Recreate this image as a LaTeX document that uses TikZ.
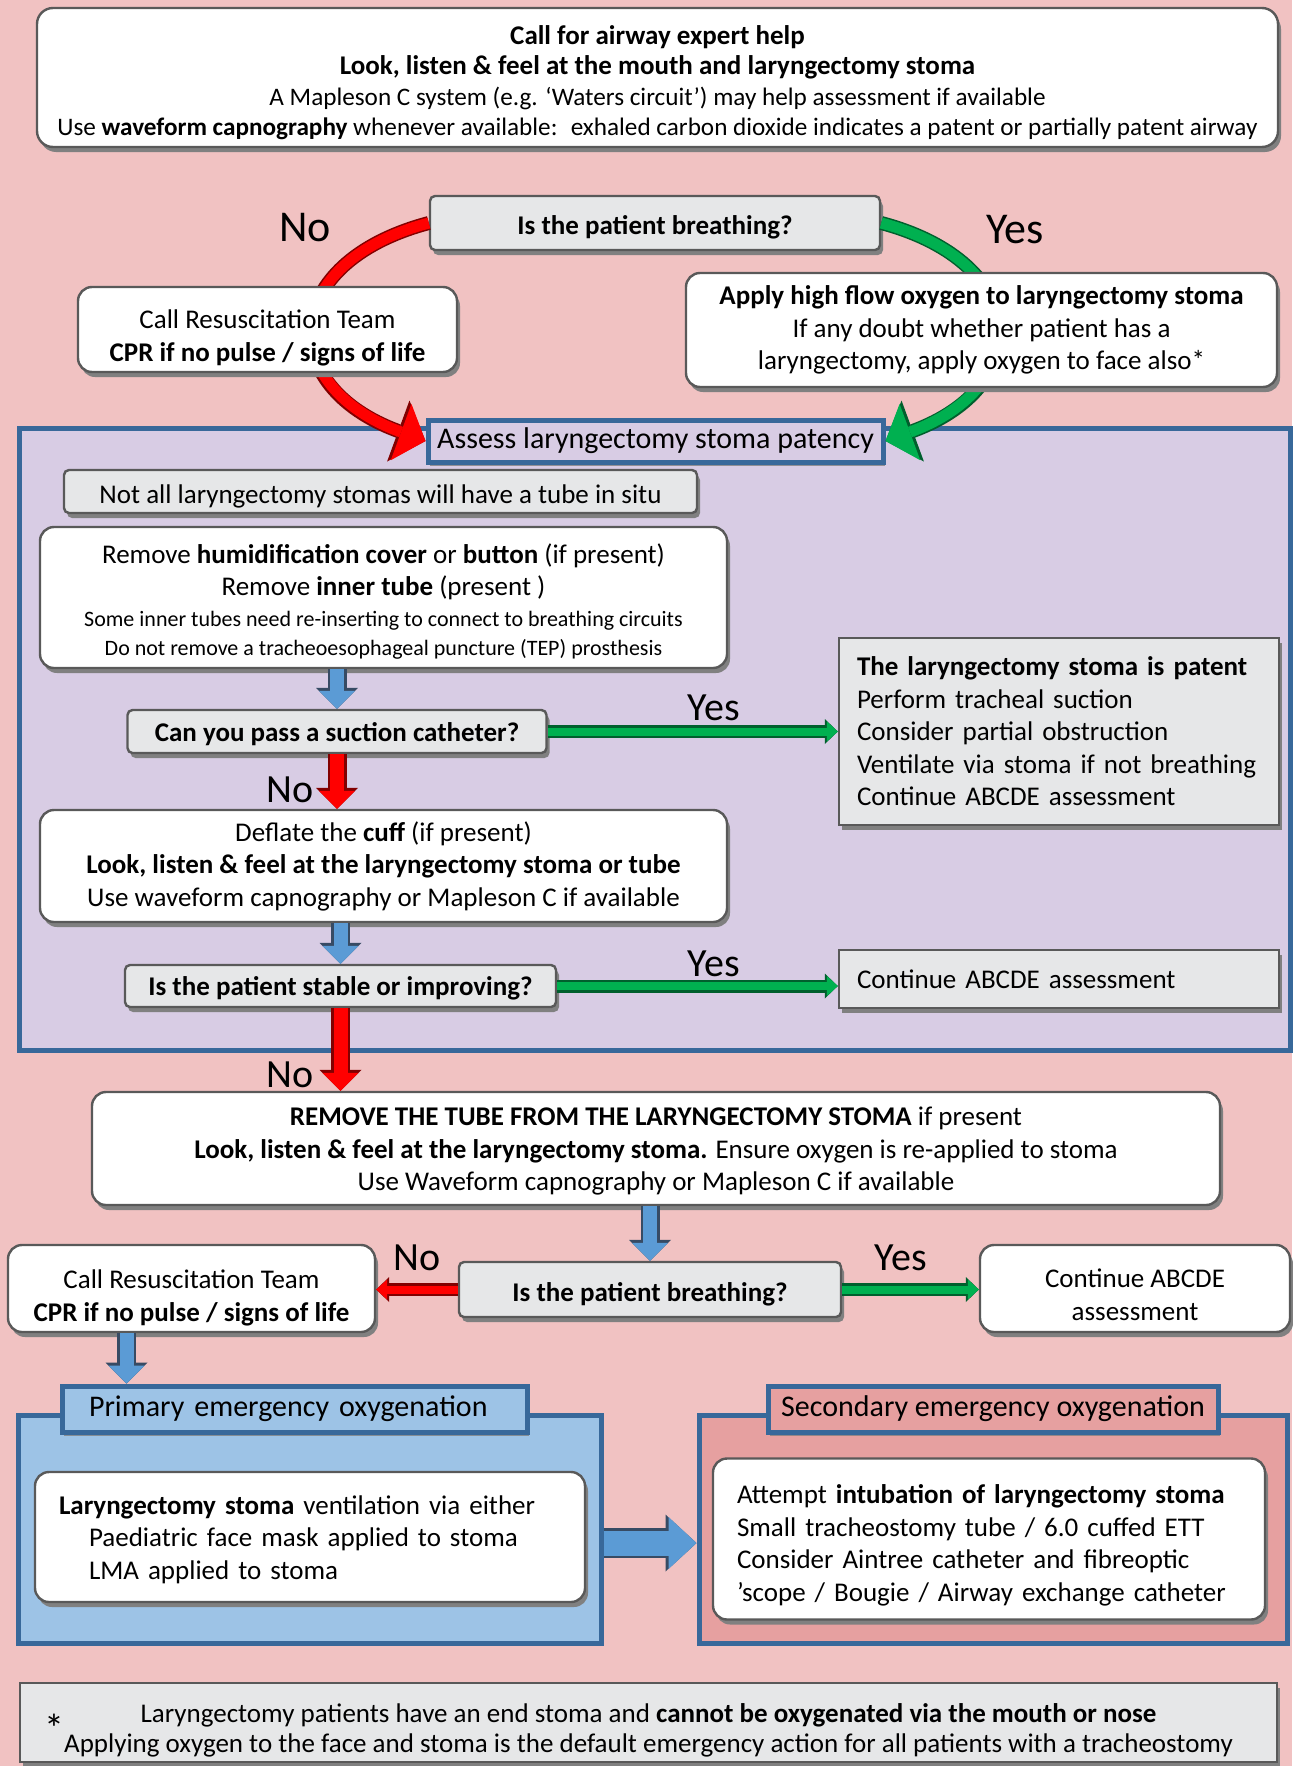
\documentclass[tikz,border=0pt]{standalone}
\usepackage{fontspec}
\setmainfont{Carlito}
\usetikzlibrary{arrows.meta,shadows}

\definecolor{bgpink}{RGB}{241,194,194}
\definecolor{lavender}{RGB}{216,204,228}
\definecolor{boxgray}{RGB}{230,231,232}
\definecolor{boxline}{RGB}{89,89,89}
\definecolor{shadowgray}{RGB}{128,128,128}
\definecolor{frameblue}{RGB}{56,104,154}
\definecolor{arrowblue}{RGB}{91,155,213}
\definecolor{blueline}{RGB}{55,75,100}
\definecolor{okgreen}{RGB}{0,176,80}
\definecolor{darkgreen}{RGB}{0,95,45}
\definecolor{nored}{RGB}{255,0,0}
\definecolor{darkred}{RGB}{130,0,0}
\definecolor{primblue}{RGB}{157,195,230}
\definecolor{secrose}{RGB}{230,160,160}

\newcommand\mainsz{\fontsize{13.5}{16.25}\selectfont}
\newcommand\smallsz{\fontsize{11}{14.75}\selectfont}
\newcommand\topsz{\fontsize{12.6}{15.5}\selectfont}
\newcommand\tagsz{\fontsize{15}{18}\selectfont}
\newcommand\bigans{\fontsize{22}{22}\selectfont}
\newcommand\midans{\fontsize{20}{20}\selectfont}
% strut that pushes a text block down inside its box
\newcommand\topgap[1]{\rule{0pt}{#1}}

\tikzset{
  box/.style={draw=boxline, line width=1.2pt, fill=white, rounded corners=7pt,
    align=center, inner sep=0pt, font=\mainsz,
    drop shadow={shadow xshift=1.5pt, shadow yshift=-2.5pt, fill=shadowgray, opacity=1}},
  qbox/.style={box, fill=boxgray, rounded corners=2.5pt},
  notebox/.style={box, fill=boxgray, rounded corners=0pt, align=left},
  tag/.style={draw=frameblue, line width=2.5pt, inner sep=0pt, font=\tagsz,
    drop shadow={shadow xshift=1pt, shadow yshift=-2pt, fill=shadowgray, opacity=0.8}},
  zone/.style={draw=frameblue, line width=2.5pt, inner sep=0pt},
  answer/.style={inner sep=0pt, text=black},
  downblue/.style={draw=arrowblue, line width=7pt,
    -{Triangle[width=18pt,length=9pt,line width=0pt]},
    preaction={draw=blueline, line width=9.5pt, -{Triangle[width=21pt,length=10.5pt,line width=0pt]}}},
  downred/.style={draw=nored, line width=7pt,
    -{Triangle[width=18pt,length=9pt,line width=0pt]},
    preaction={draw=darkred, line width=9.5pt, -{Triangle[width=21pt,length=10.5pt,line width=0pt]}}},
  thinyes/.style={draw=okgreen, line width=4pt,
    -{Triangle[width=10pt,length=5.5pt,line width=0pt]},
    preaction={draw=darkgreen, line width=6.5pt, -{Triangle[width=12.5pt,length=6.5pt,line width=0pt]}}},
  thinno/.style={draw=nored, line width=4pt,
    -{Triangle[width=10pt,length=5.5pt,line width=0pt]},
    preaction={draw=darkred, line width=6.5pt, -{Triangle[width=12.5pt,length=6.5pt,line width=0pt]}}},
  bigblue/.style={draw=arrowblue, line width=12.5pt,
    -{Triangle[width=26pt,length=14pt,line width=0pt]},
    preaction={draw=blueline, line width=15pt, -{Triangle[width=28.5pt,length=15.5pt,line width=0pt]}}},
  curveno/.style={draw=nored, line width=5.5pt,
    -{Triangle[width=30pt,length=13pt,line width=0pt]},
    preaction={draw=darkred, line width=7pt, -{Triangle[width=32.5pt,length=14.5pt,line width=0pt]}}},
  curveyes/.style={draw=okgreen, line width=5.5pt,
    -{Triangle[width=30pt,length=13pt,line width=0pt]},
    preaction={draw=darkgreen, line width=7pt, -{Triangle[width=32.5pt,length=14.5pt,line width=0pt]}}}
}

\begin{document}
\begin{tikzpicture}[x=0.5pt, y=-0.5pt]
\useasboundingbox (0,0) rectangle (1292,1766);
\fill[bgpink] (0,0) rectangle (1292,1766);

% coloured zones
\node[zone, fill=lavender, minimum width=635.5pt, minimum height=311pt] (stomazone) at (654.5,739) {};
\node[zone, fill=primblue, minimum width=291.5pt, minimum height=114pt] (prizone) at (309.5,1529) {};
\node[zone, fill=secrose, minimum width=294pt, minimum height=114pt] (seczone) at (993,1529) {};

% first assessment
\node[box, rounded corners=8pt, minimum width=620.5pt, minimum height=69.5pt] (top) at (657.5,77.5)
  {\topgap{14.5pt}\textbf{Call for airway expert help}\\[-1pt]
   \textbf{Look, listen \& feel at the mouth and laryngectomy stoma}\\[-1pt]
   {\topsz A Mapleson C system (e.g. ‘Waters circuit’) may help assessment if available}\\[-1pt]
   {\topsz Use \textbf{waveform capnography} whenever available:~ exhaled carbon dioxide indicates a patent or partially patent airway}};
\node[qbox, minimum width=225pt, minimum height=27pt] (brth) at (655,223) {\topgap{14pt}\textbf{Is the patient breathing?}};
\node[tag, fill=lavender, minimum width=227.5pt, minimum height=21pt] (assess) at (655.5,441) {Assess laryngectomy stoma patency};

% curved answers
\draw[curveno] (brth.west) .. controls +(-150,40) and +(-150,-55) .. (assess.west);
\draw[curveyes] (brth.east) .. controls +(150,40) and +(150,-55) .. (assess.east);

\node[box, minimum width=189.5pt, minimum height=42.5pt] (callA) at (267.5,329.5)
  {\topgap{18pt}Call Resuscitation Team\\ \textbf{CPR if no pulse / signs of life}};
\node[box, minimum width=295.5pt, minimum height=57pt] (oxy) at (981.5,330)
  {\textbf{Apply high flow oxygen to laryngectomy stoma}\\ If any doubt whether patient has a\\ laryngectomy, apply oxygen to face also*};
\node[answer, font=\bigans] (noA) at (305,228) {No};
\node[answer, font=\bigans] (yesA) at (1015,230) {Yes};

% stoma patency
\node[qbox, minimum width=316.5pt, minimum height=21.5pt] (notall) at (380.5,491.5)
  {\topgap{14pt}Not all laryngectomy stomas will have a tube in situ};
\node[box, minimum width=343.5pt, minimum height=70.5pt] (remove) at (383.5,597.5)
  {\topgap{14pt}Remove \textbf{humidification cover} or \textbf{button} (if present)\\
   Remove \textbf{inner tube} (present )\\[-1pt]
   {\smallsz Some inner tubes need re-inserting to connect to breathing circuits}\\[-1.5pt]
   {\smallsz Do not remove a tracheoesophageal puncture (TEP) prosthesis}};
\node[qbox, minimum width=209.5pt, minimum height=21.5pt] (suction) at (337,731.5)
  {\topgap{12pt}\textbf{Can you pass a suction catheter?}};
\node[notebox, inner xsep=9pt, text width=202pt, minimum height=93.5pt] (patent) at (1059,731.5)
  {\textbf{The laryngectomy stoma is patent}\\ Perform tracheal suction\\ Consider partial obstruction\\
   Ventilate via stoma if not breathing\\ Continue ABCDE assessment};
\node[box, minimum width=343.5pt, minimum height=56pt] (deflate) at (383.5,866)
  {Deflate the \textbf{cuff} (if present)\\
   \textbf{Look, listen \& feel at the laryngectomy stoma or tube}\\
   Use waveform capnography or Mapleson C if available};
\node[qbox, minimum width=215.5pt, minimum height=21pt] (stable) at (340.5,986)
  {\topgap{12pt}\textbf{Is the patient stable or improving?}};
\node[notebox, inner xsep=9pt, text width=202pt, minimum height=29pt] (contA) at (1059,979)
  {Continue ABCDE assessment};

\draw[downblue] (suction.north |- remove.south) -- (suction.north);
\draw[thinyes] (suction.east) -- (suction.east -| patent.west);
\draw[downred] (suction.south) -- (suction.south |- deflate.north);
\draw[downblue] (stable.north |- deflate.south) -- (stable.north);
\draw[thinyes] (stable.east) -- (stable.east -| contA.west);
\node[answer, font=\midans] (yesB) at (714,708) {Yes};
\node[answer, font=\midans] (noB) at (290,790) {No};
\node[answer, font=\midans] (yesC) at (714,964) {Yes};
\node[answer, font=\midans] (noC) at (290,1075) {No};

% remove the tube
\node[box, minimum width=564pt, minimum height=56.5pt] (removetube) at (656,1148.5)
  {\topgap{12pt}\textbf{REMOVE THE TUBE FROM THE LARYNGECTOMY STOMA} if present\\
   \textbf{Look, listen \& feel at the laryngectomy stoma.} Ensure oxygen is re-applied to stoma\\
   Use Waveform capnography or Mapleson C if available};
\draw[downred] (stable.south) -- (stable.south |- removetube.north);
\node[qbox, minimum width=191pt, minimum height=27.5pt] (brthB) at (650,1289.5) {\topgap{14pt}\textbf{Is the patient breathing?}};
\node[box, minimum width=183.5pt, minimum height=43.5pt] (callB) at (191.5,1288.5)
  {\topgap{19pt}Call Resuscitation Team\\ \textbf{CPR if no pulse / signs of life}};
\node[box, minimum width=155pt, minimum height=43.5pt] (contB) at (1135,1288.5)
  {\topgap{15.5pt}Continue ABCDE\\ assessment};
\draw[downblue] (brthB.north |- removetube.south) -- (brthB.north);
\draw[thinno] (brthB.west) -- (brthB.west -| callB.east);
\draw[thinyes] (brthB.east) -- (brthB.east -| contB.west);
\node[answer, font=\midans] (noD) at (417,1258) {No};
\node[answer, font=\midans] (yesD) at (901,1258) {Yes};

% emergency oxygenation
\node[tag, fill=primblue, align=left, inner xsep=13.5pt, text width=205.5pt, minimum height=23pt] (prilabel) at (294.5,1409) {Primary emergency oxygenation};
\node[tag, fill=secrose, minimum width=225pt, minimum height=23pt] (seclabel) at (993,1409) {Secondary emergency oxygenation};
\coordinate (cbfoot) at ([xshift=-32.5pt]callB.south);
\draw[downblue] (cbfoot) -- (cbfoot |- prilabel.north);
\node[box, align=left, inner xsep=12pt, text width=251pt, minimum height=65pt] (priinner) at (310,1537)
  {\topgap{12pt}\textbf{Laryngectomy stoma} ventilation via either\\
   \hspace*{15pt}Paediatric face mask applied to stoma\\
   \hspace*{15pt}LMA applied to stoma};
\node[box, align=left, inner xsep=12pt, text width=252pt, minimum height=80.5pt] (secinner) at (989,1539)
  {\topgap{16pt}Attempt \textbf{intubation of laryngectomy stoma}\\ Small tracheostomy tube / 6.0 cuffed ETT\\
   Consider Aintree catheter and fibreoptic\\ ’scope / Bougie / Airway exchange catheter};
\coordinate (priout) at ([yshift=-7pt]prizone.east);
\draw[bigblue] (priout) -- (priout -| seczone.west);

% footnote
\node[notebox, align=center, minimum width=628.5pt, minimum height=39.5pt] (foot) at (648.5,1722.5)
  {\topgap{17pt}Laryngectomy patients have an end stoma and \textbf{cannot be oxygenated via the mouth or nose}\\[-1.25pt]
   Applying oxygen to the face and stoma is the default emergency action for all patients with a tracheostomy};
\node[answer, font=\fontsize{20}{20}\selectfont] (star) at (54,1728) {*};
\end{tikzpicture}
\end{document}
